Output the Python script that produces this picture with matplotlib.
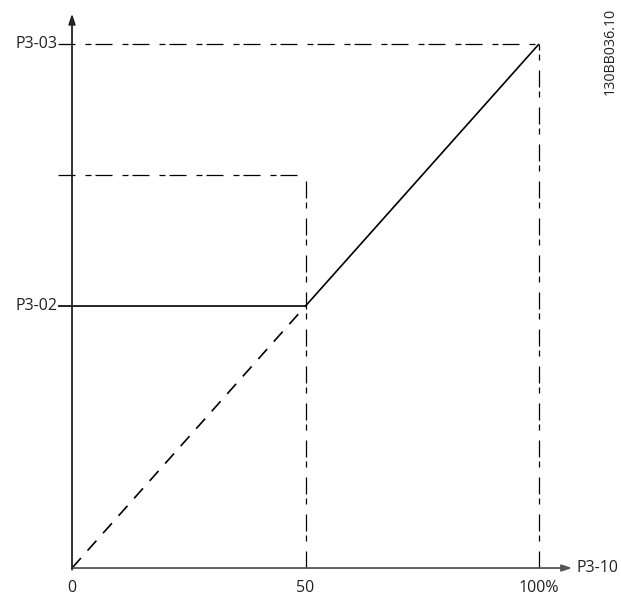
import matplotlib
matplotlib.use("Agg")
import matplotlib.pyplot as plt

plt.rcParams['font.family'] = ['Open Sans', 'DejaVu Sans']

# data (percent of P3-10 on x, reference on y)
x_ticks = [0, 50, 100]
x_tick_labels = ["0", "50", "100%"]
y_ticks = [50, 100]
y_tick_labels = ["P3-02", "P3-03"]

solid_x = [-3, 50, 100]
solid_y = [50, 50, 100]
dashed_x = [0, 50]
dashed_y = [0, 50]
mid_level = 75

fig = plt.figure(figsize=(6.21, 5.96), dpi=100)
ax = fig.add_axes([0, 0, 1, 1])
ax.set_xlim(-15.42, 117.56)
ax.set_ylim(-5.34, 108.4)
ax.axis("off")

dashdot = (0, (13.6, 8, 4.8, 3.2))
axis_col = "#555555"
txt_col = "#222222"
fs = 11.5

# axes with arrows
ax.annotate("", xy=(107.1, 0), xytext=(0, 0),
            arrowprops=dict(arrowstyle="-|>,head_length=0.6,head_width=0.2",
                            color=axis_col, lw=1.3, shrinkA=0, shrinkB=0))
ax.annotate("", xy=(0, 105.8), xytext=(0, -0.3),
            arrowprops=dict(arrowstyle="-|>,head_length=0.6,head_width=0.2",
                            color="#222222", lw=1.3, shrinkA=0, shrinkB=0))

# curves
ax.plot(solid_x, solid_y, color="black", lw=1.2, solid_capstyle="butt")
ax.plot(dashed_x, dashed_y, color="black", lw=1.2, linestyle=(0, (8, 6)))

# guide lines
ax.plot([-3, 100], [y_ticks[1], y_ticks[1]], color="black", lw=0.9, linestyle=dashdot)
ax.plot([x_ticks[2], x_ticks[2]], [0, y_ticks[1]], color="black", lw=0.9, linestyle=dashdot)
ax.plot([-3, x_ticks[1]], [mid_level, mid_level], color="black", lw=0.9, linestyle=dashdot)
ax.plot([x_ticks[1], x_ticks[1]], [0, mid_level], color="black", lw=0.9, linestyle=dashdot)

# tick labels
for xv, lab in zip(x_ticks, x_tick_labels):
    ax.text(xv, -2.2, lab, ha="center", va="top", fontsize=fs, color=txt_col)
for yv, lab in zip(y_ticks, y_tick_labels):
    ax.text(-3.2, yv, lab, ha="right", va="center", fontsize=fs, color=txt_col)

ax.text(108.0, 0, "P3-10", ha="left", va="center", fontsize=fs, color=txt_col)
ax.text(115.2, 98.5, "130BB036.10", ha="center", va="center", rotation=90,
        fontsize=10.3, color=txt_col)

fig.savefig("out.png", dpi=100)
